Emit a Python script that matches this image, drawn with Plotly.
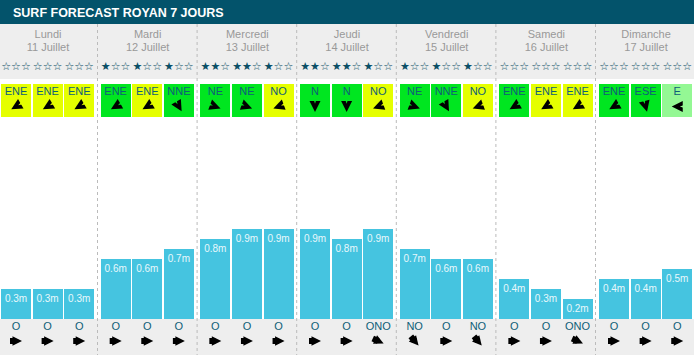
import math
import plotly.graph_objects as go

# ---------------- data ----------------
title = "SURF FORECAST ROYAN 7 JOURS"
days = ["Lundi", "Mardi", "Mercredi", "Jeudi", "Vendredi", "Samedi", "Dimanche"]
dates = ["11 Juillet", "12 Juillet", "13 Juillet", "14 Juillet", "15 Juillet", "16 Juillet", "17 Juillet"]
stars = [0, 0, 0, 1, 1, 1, 2, 2, 1, 2, 2, 1, 1, 1, 1, 0, 0, 0, 0, 0, 0]
wind_dir = ["ENE", "ENE", "ENE", "ENE", "ENE", "NNE", "NE", "NE", "NO", "N", "N", "NO",
            "NE", "NNE", "NO", "ENE", "ENE", "ENE", "ENE", "ESE", "E"]
wind_quality = ["y", "y", "y", "g", "y", "g", "g", "g", "y", "g", "g", "y",
                "g", "g", "y", "g", "y", "y", "g", "g", "lg"]
wave_height = [0.3, 0.3, 0.3, 0.6, 0.6, 0.7, 0.8, 0.9, 0.9, 0.9, 0.8, 0.9,
               0.7, 0.6, 0.6, 0.4, 0.3, 0.2, 0.4, 0.4, 0.5]
swell_dir = ["O", "O", "O", "O", "O", "O", "O", "O", "O", "O", "O", "ONO",
             "NO", "O", "NO", "O", "O", "ONO", "O", "O", "O"]

# ---------------- style ----------------
W, H = 694, 355
FONT = "Liberation Sans, Arial, Helvetica, sans-serif"
TEAL_DARK = "#03536b"
TXT_TEAL = "#0f5e78"
GRAY_BG = "#eeeeee"
BAR_COL = "#45c4e0"
Q_COL = {"y": "#e5ff00", "g": "#00e620", "lg": "#94f894"}
WIND_ANGLE = {"ENE": 240, "NNE": 150, "NE": 110, "NO": 250, "N": 180, "ESE": 165, "E": 270}
SWELL_ANGLE = {"O": 90, "NO": 140, "ONO": 115}

DAY_STEP = 99.67
SLOT_STEP = 31.6
BAR_W = 30


def py(p):
    """pixel row (from top) -> data y (metres); bar baseline at row 319, 100px per metre"""
    return (319 - p) / 100.0


def shift(xs, row, angles, dist):
    """move a glyph anchor `dist` pixels along its pointing direction"""
    xx = [x + dist * math.sin(math.radians(a)) for x, a in zip(xs, angles)]
    yy = [py(row) + dist * math.cos(math.radians(a)) / 100.0 for a in angles]
    return xx, yy


n = len(wave_height)
xc = [1 + DAY_STEP * (i // 3) + SLOT_STEP * (i % 3) + BAR_W / 2 for i in range(n)]
day_xc = [1 + DAY_STEP * d + 47 for d in range(len(days))]
box_cols = [Q_COL[q] for q in wind_quality]

fig = go.Figure()

# wave bars
fig.add_trace(go.Bar(x=xc, y=wave_height, width=BAR_W, marker=dict(color=BAR_COL, line_width=0),
                     hoverinfo="skip"))
fig.add_trace(go.Scatter(x=xc, y=[h - 0.10 for h in wave_height], mode="text",
                         text=[f"{h:.1f}m" for h in wave_height],
                         textfont=dict(family=FONT, size=10, color="#e8f8fc"), hoverinfo="skip"))

# wind boxes
fig.add_trace(go.Bar(x=xc, y=[py(84) - py(117)] * n, base=py(117), width=BAR_W,
                     marker=dict(color=box_cols, line_width=0), hoverinfo="skip"))
fig.add_trace(go.Scatter(x=xc, y=[py(92)] * n, mode="text", text=wind_dir,
                         textfont=dict(family=FONT, size=11, color=TXT_TEAL), hoverinfo="skip"))
wa = [WIND_ANGLE[d] for d in wind_dir]
S = 11
wx, wy = shift(xc, 106.5, wa, S / 2)
fig.add_trace(go.Scatter(x=wx, y=wy, mode="markers",
                         marker=dict(symbol="arrow-up", size=S, color="black",
                                     angle=wa, line_width=0),
                         hoverinfo="skip"))
# shallow notch cut into the back of each arrowhead (filled with the box colour)
nx, ny = shift(xc, 106.5, wa, -S / 2 + 0.26 * S)
fig.add_trace(go.Scatter(x=nx, y=ny, mode="markers",
                         marker=dict(symbol="arrow", size=S * 0.7, color=box_cols,
                                     angle=wa, line_width=0),
                         hoverinfo="skip"))

# swell direction
fig.add_trace(go.Scatter(x=xc, y=[py(327)] * n, mode="text", text=swell_dir,
                         textfont=dict(family=FONT, size=11, color=TXT_TEAL), hoverinfo="skip"))
sa = [SWELL_ANGLE[d] for d in swell_dir]
hx, hy = shift(xc, 341, sa, 6)
tx, ty = shift(xc, 341, sa, -3)
fig.add_trace(go.Scatter(x=tx, y=ty, mode="markers",
                         marker=dict(symbol="square", size=6, color="black",
                                     angle=sa, line_width=0),
                         hoverinfo="skip"))
fig.add_trace(go.Scatter(x=hx, y=hy, mode="markers",
                         marker=dict(symbol="arrow-up", size=9.5, color="black",
                                     angle=sa, line_width=0),
                         hoverinfo="skip"))

# stars
fig.add_trace(go.Scatter(x=xc, y=[py(67)] * n, mode="text",
                         text=["★" * s + "☆" * (3 - s) for s in stars],
                         textfont=dict(family="DejaVu Sans", size=11, color="#0b4f66"),
                         hoverinfo="skip"))

# day names and dates
fig.add_trace(go.Scatter(x=day_xc, y=[py(35)] * len(days), mode="text", text=days,
                         textfont=dict(family=FONT, size=11, color="#999999"), hoverinfo="skip"))
fig.add_trace(go.Scatter(x=day_xc, y=[py(48)] * len(days), mode="text", text=dates,
                         textfont=dict(family=FONT, size=11, color="#999999"), hoverinfo="skip"))

shapes = [
    dict(type="rect", xref="x", yref="y", x0=0, x1=W, y0=py(0), y1=py(24),
         fillcolor=TEAL_DARK, line_width=0, layer="below"),
    dict(type="rect", xref="x", yref="y", x0=0, x1=W, y0=py(24), y1=py(79),
         fillcolor=GRAY_BG, line_width=0, layer="below"),
    dict(type="rect", xref="x", yref="y", x0=0, x1=W, y0=py(319), y1=py(H),
         fillcolor=GRAY_BG, line_width=0, layer="below"),
]
for k in range(len(days) - 1):
    xs = 97.5 + 99.6 * k
    shapes.append(dict(type="line", xref="x", yref="y", x0=xs, x1=xs, y0=py(24), y1=py(H),
                       line=dict(color="#bbbbbb", width=1, dash="3px,3px"), layer="below"))

fig.update_layout(
    width=W, height=H, margin=dict(l=0, r=0, t=0, b=0),
    paper_bgcolor="white", plot_bgcolor="white",
    showlegend=False, barmode="overlay", bargap=0,
    xaxis=dict(range=[0, W], visible=False, fixedrange=True),
    yaxis=dict(range=[py(H), py(0)], visible=False, fixedrange=True),
    shapes=shapes,
    annotations=[dict(text=f"<b>{title}</b>", x=11, y=py(12.5), xref="x", yref="y",
                      xanchor="left", yanchor="middle", showarrow=False,
                      font=dict(family=FONT, size=12.5, color="white"))],
)

fig.write_html("out.html", config={"displayModeBar": False},
               post_script="document.body.style.margin='0';")
